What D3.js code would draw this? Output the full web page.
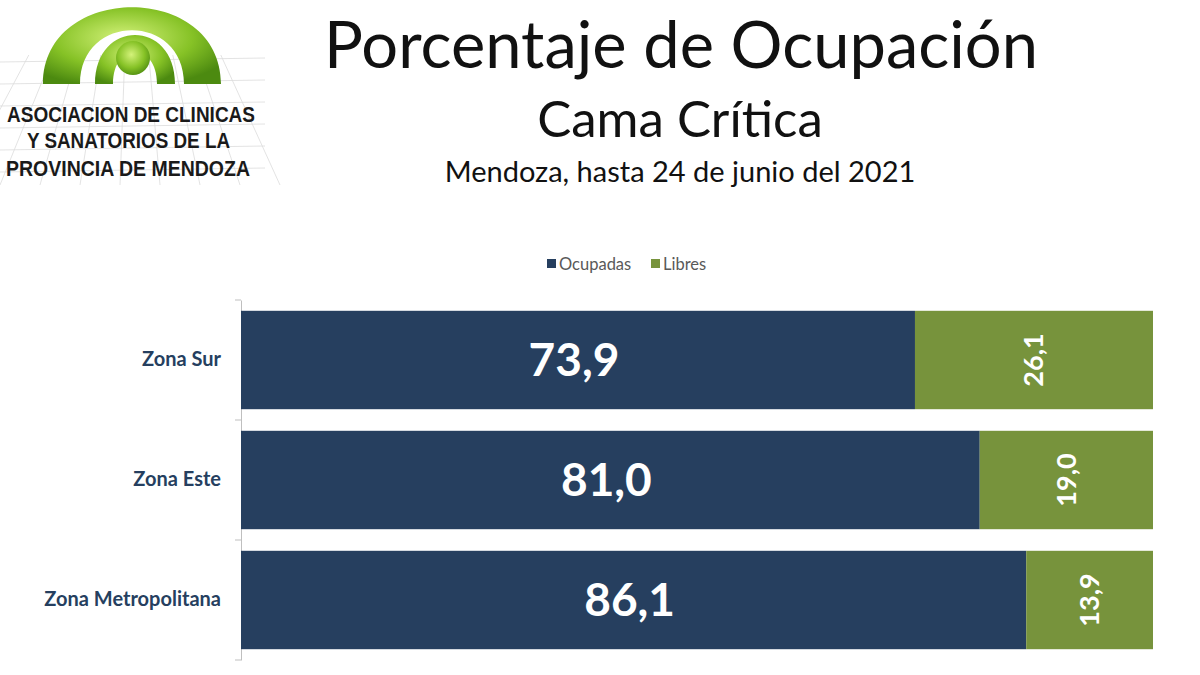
<!DOCTYPE html>
<html>
<head>
<meta charset="utf-8">
<script src="https://cdn.jsdelivr.net/npm/d3@7"></script>
<style>
  body { margin: 0; background: #fff; }
  svg { display: block; }
</style>
</head>
<body>
<svg id="canvas" width="1200" height="675"></svg>
<script>
var zonas = ['Zona Sur', 'Zona Este', 'Zona Metropolitana']
var ocupadas = [73.9, 81.0, 86.1]
var libres = [26.1, 19.0, 13.9]
var series = ['Ocupadas', 'Libres']
var colores = ['#263f5f', '#77933c']

var svg = d3.select('#canvas')
var fmt = function (v) { return v.toFixed(1).replace('.', ',') }

// logo
var logo = svg.append('g')
var grid = logo.append('g').attr('stroke', '#dcdcdc').attr('stroke-width', 0.8)
for (var gy = 62; gy <= 184; gy += 22) {
  grid.append('line').attr('x1', 0).attr('x2', 265).attr('y1', gy).attr('y2', gy - 4)
}
for (var gx = -40; gx <= 300; gx += 40) {
  grid.append('line').attr('x1', gx).attr('x2', 132 + (gx - 132) * 0.6).attr('y1', 185).attr('y2', 55)
}
var grad = svg.append('defs').append('radialGradient').attr('id', 'verde')
  .attr('cx', '45%').attr('cy', '40%').attr('r', '65%')
grad.append('stop').attr('offset', '0%').attr('stop-color', '#d4f27a')
grad.append('stop').attr('offset', '60%').attr('stop-color', '#86c226')
grad.append('stop').attr('offset', '100%').attr('stop-color', '#4c8a10')

function arco (cx, cy, rxo, ryo, rxi, ryi) {
  var p = d3.path()
  p.moveTo(cx - rxo, cy)
  p.bezierCurveTo(cx - rxo, cy - ryo * 1.33, cx + rxo, cy - ryo * 1.33, cx + rxo, cy)
  p.lineTo(cx + rxi, cy)
  p.bezierCurveTo(cx + rxi, cy - ryi * 1.33, cx - rxi, cy - ryi * 1.33, cx - rxi, cy)
  p.closePath()
  return p.toString()
}
logo.append('path').attr('d', arco(132, 84, 89, 77, 52, 54)).attr('fill', 'url(#verde)')
logo.append('path').attr('d', arco(135, 84, 40, 49, 22, 32)).attr('fill', 'url(#verde)')
logo.append('circle').attr('cx', 133).attr('cy', 58).attr('r', 17).attr('fill', 'url(#verde)')

var logoTexto = [['ASOCIACION DE CLINICAS', 7, 122, 248], ['Y SANATORIOS DE LA', 27, 148, 203], ['PROVINCIA DE MENDOZA', 6, 176, 244]]
logo.selectAll('text.logo').data(logoTexto).join('text')
  .attr('x', function (d) { return d[1] })
  .attr('y', function (d) { return d[2] })
  .attr('textLength', function (d) { return d[3] })
  .attr('lengthAdjust', 'spacingAndGlyphs')
  .attr('font-family', 'Liberation Sans, Arial, sans-serif')
  .attr('font-weight', 'bold')
  .attr('font-size', 22)
  .attr('fill', '#1a1a1a')
  .text(function (d) { return d[0] })

// titles
var titulos = [['Porcentaje de Ocupación', 681, 68, 65], ['Cama Crítica', 680, 137, 51], ['Mendoza, hasta 24 de junio del 2021', 680, 182, 29]]
svg.selectAll('text.titulo').data(titulos).join('text')
  .attr('class', 'titulo')
  .attr('x', function (d) { return d[1] })
  .attr('y', function (d) { return d[2] })
  .attr('text-anchor', 'middle')
  .attr('font-family', 'Lato, sans-serif')
  .attr('font-size', function (d) { return d[3] })
  .attr('fill', '#111')
  .text(function (d) { return d[0] })

// legend
var leg = svg.append('g').attr('font-family', 'Lato, sans-serif').attr('font-size', 16.5).attr('fill', '#595959')
var legX = [547, 651]
series.forEach(function (s, i) {
  leg.append('rect').attr('x', legX[i]).attr('y', 259).attr('width', 9).attr('height', 9).attr('fill', colores[i])
  leg.append('text').attr('x', legX[i] + 12).attr('y', 270).text(s)
})

// chart
var x = d3.scaleLinear().domain([0, 100]).range([241, 1153])
var y = d3.scaleBand().domain(zonas).range([300, 660]).paddingInner(0.18).paddingOuter(0.09)

var ax = svg.append('g').attr('transform', 'translate(241,0)')
  .call(d3.axisLeft(y).tickSize(0).tickPadding(20))
ax.select('.domain').attr('stroke', '#bfbfbf')
ax.selectAll('text').attr('font-family', 'Lato, sans-serif').attr('font-size', 20)
  .attr('font-weight', 'bold').attr('fill', '#263f5f')
var tickY = [300, 420, 540, 660]
ax.selectAll('line.sep').data(tickY).join('line').attr('class', 'sep')
  .attr('x1', -6).attr('x2', 0).attr('y1', function (d) { return d }).attr('y2', function (d) { return d })
  .attr('stroke', '#bfbfbf')

var filas = zonas.map(function (z, i) { return { zona: z, o: ocupadas[i], l: libres[i] } })

svg.selectAll('rect.ocup').data(filas).join('rect').attr('class', 'ocup')
  .attr('x', x(0)).attr('y', function (d) { return y(d.zona) })
  .attr('width', function (d) { return x(d.o) - x(0) })
  .attr('height', y.bandwidth()).attr('fill', colores[0])
svg.selectAll('rect.libre').data(filas).join('rect').attr('class', 'libre')
  .attr('x', function (d) { return x(d.o) }).attr('y', function (d) { return y(d.zona) })
  .attr('width', function (d) { return x(d.o + d.l) - x(d.o) })
  .attr('height', y.bandwidth()).attr('fill', colores[1])

svg.selectAll('text.vo').data(filas).join('text').attr('class', 'vo')
  .attr('x', function (d) { return (x(0) + x(d.o)) / 2 - 4 })
  .attr('y', function (d) { return y(d.zona) + y.bandwidth() / 2 })
  .attr('dy', '0.35em').attr('text-anchor', 'middle')
  .attr('font-family', 'Lato, sans-serif').attr('font-weight', 'bold').attr('font-size', 46)
  .attr('fill', '#fff').text(function (d) { return fmt(d.o) })

svg.selectAll('text.vl').data(filas).join('text').attr('class', 'vl')
  .attr('transform', function (d) {
    return 'translate(' + (x(d.o) + x(d.o + d.l)) / 2 + ',' + (y(d.zona) + y.bandwidth() / 2) + ') rotate(-90)'
  })
  .attr('dy', '0.35em').attr('text-anchor', 'middle')
  .attr('font-family', 'Lato, sans-serif').attr('font-weight', 'bold').attr('font-size', 27)
  .attr('fill', '#fff').text(function (d) { return fmt(d.l) })
</script>
</body>
</html>
